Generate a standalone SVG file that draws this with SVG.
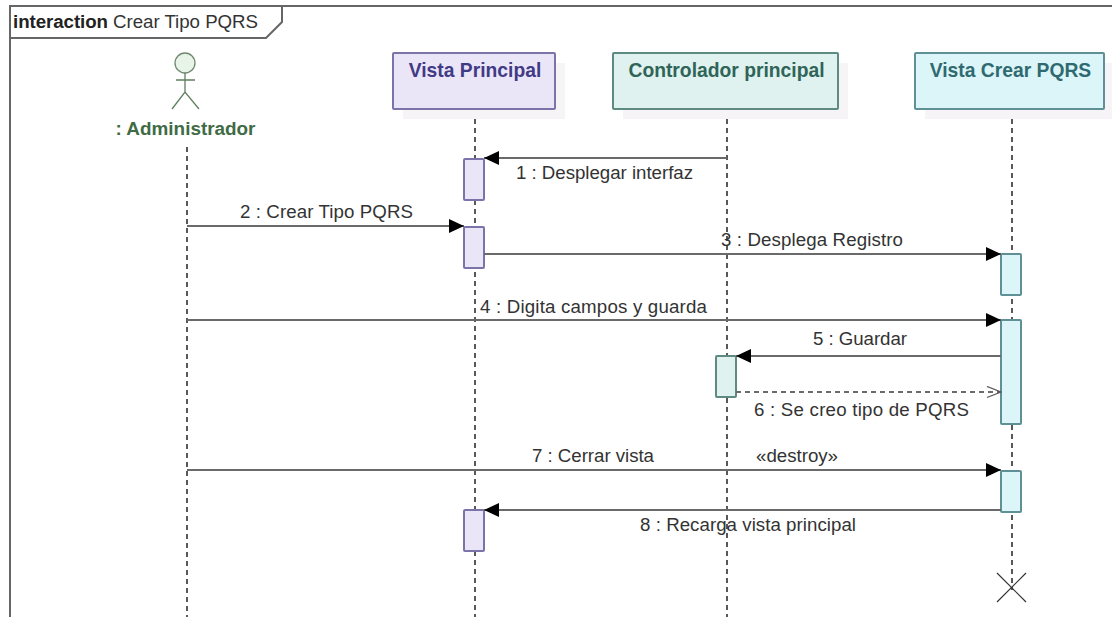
<svg xmlns="http://www.w3.org/2000/svg" width="1112" height="617" viewBox="0 0 1112 617">
<style>
text{font-family:"Liberation Sans",Arial,sans-serif;font-size:18.7px;fill:#333}
.nm{font-weight:bold;text-anchor:middle;font-size:19.3px}
.life{stroke:#222;stroke-width:1.5;stroke-dasharray:5 4;fill:none}
.msg{stroke:#6a6a6a;stroke-width:2;fill:none}
.ret{stroke:#6a6a6a;stroke-width:1.8;stroke-dasharray:5 4;fill:none}
.shadow{fill:#f6f4f6}
.vp{fill:#ebe6f7;stroke:#7a74a8;stroke-width:2}
.ct{fill:#dff2ef;stroke:#5f8a82;stroke-width:2}
.vc{fill:#dcf5f9;stroke:#5f9095;stroke-width:2}
</style>
<defs>
<marker id="solid" markerUnits="userSpaceOnUse" markerWidth="16" markerHeight="14" refX="15" refY="7" orient="auto"><path d="M0 0L15 7L0 14Z" fill="#000"/></marker>
<marker id="open" markerUnits="userSpaceOnUse" markerWidth="16" markerHeight="14" refX="15" refY="6.5" orient="auto"><path d="M1 1L15 6.5L1 12" fill="none" stroke="#555" stroke-width="1.3"/></marker>
</defs>
<rect width="1112" height="617" fill="#fff"/>
<g id="frame">
<path d="M1112 6H10V617" fill="none" stroke="#666" stroke-width="2"/>
<path d="M10 38H266L282 22V6" fill="none" stroke="#666" stroke-width="2"/>
<text x="13" y="28" style="font-weight:bold;fill:#222" textLength="95">interaction</text>
<text x="113" y="28" textLength="145">Crear Tipo PQRS</text>
</g>
<g id="lifelines">
<path class="life" d="M187 147V617"/>
<path class="life" d="M475 110V617"/>
<path class="life" d="M727 110V617"/>
<path class="life" d="M1012 110V590"/>
</g>
<g id="administrador">
<circle cx="185" cy="63" r="10" fill="#e9f4e9" stroke="#6f8a6f" stroke-width="1.3"/>
<path d="M185 73V92M176 80H195M172 109L185 92L199 109" fill="none" stroke="#5f7f5f" stroke-width="1.3"/>
<text class="nm" x="185.500" y="135" style="fill:#3f6b45;font-size:18.9px">: Administrador</text>
</g>
<g id="vista-principal">
<rect class="shadow" x="403" y="63" width="162" height="56"/>
<rect class="vp" x="393" y="53" width="162" height="56" rx="1"/>
<text class="nm" x="475" y="77" style="fill:#413a86">Vista Principal</text>
</g>
<g id="controlador-principal">
<rect class="shadow" x="623" y="63" width="225" height="56"/>
<rect class="ct" x="613" y="53" width="225" height="56" rx="1"/>
<text class="nm" x="726.500" y="77" style="fill:#2f6459">Controlador principal</text>
</g>
<g id="vista-crear-pqrs">
<rect class="shadow" x="925" y="63" width="187" height="56"/>
<rect class="vc" x="915" y="53" width="189" height="56" rx="1"/>
<text class="nm" x="1010.500" y="77" style="fill:#2f6a70">Vista Crear PQRS</text>
</g>
<g id="activations">
<rect class="vp" x="464" y="159" width="20" height="41" rx="1"/>
<rect class="vp" x="464" y="227" width="20" height="41" rx="1"/>
<rect class="vp" x="464" y="510" width="20" height="41" rx="1"/>
<rect class="ct" x="716" y="356" width="20" height="41" rx="1"/>
<rect class="vc" x="1001" y="254" width="20" height="41" rx="1"/>
<rect class="vc" x="1001" y="320" width="20" height="104" rx="1"/>
<rect class="vc" x="1001" y="471" width="20" height="41" rx="1"/>
</g>
<g id="connectors">
<path class="msg" d="M727 158H484" marker-end="url(#solid)"/>
<path class="msg" d="M187 226H464" marker-end="url(#solid)"/>
<path class="msg" d="M484 254H1001" marker-end="url(#solid)"/>
<path class="msg" d="M187 320H1001" marker-end="url(#solid)"/>
<path class="msg" d="M1001 356H736" marker-end="url(#solid)"/>
<path class="ret" d="M736 392H1001" marker-end="url(#open)"/>
<path class="msg" d="M187 470H1001" marker-end="url(#solid)"/>
<path class="msg" d="M1001 510H484" marker-end="url(#solid)"/>
<path d="M997 573L1026 602M1026 573L997 602" stroke="#333" stroke-width="1.2" fill="none"/>
</g>
<g id="labels">
<text x="516" y="179" textLength="177">1 : Desplegar interfaz</text>
<text x="240" y="218" textLength="173">2 : Crear Tipo PQRS</text>
<text x="721" y="246" textLength="182">3 : Desplega Registro</text>
<text x="480" y="313" textLength="227">4 : Digita campos y guarda</text>
<text x="813" y="345" textLength="94">5 : Guardar</text>
<text x="754" y="416" textLength="215">6 : Se creo tipo de PQRS</text>
<text x="532" y="462" textLength="122">7 : Cerrar vista</text>
<text x="756" y="462" textLength="82">«destroy»</text>
<text x="640" y="531" textLength="216">8 : Recarga vista principal</text>
</g>
</svg>
